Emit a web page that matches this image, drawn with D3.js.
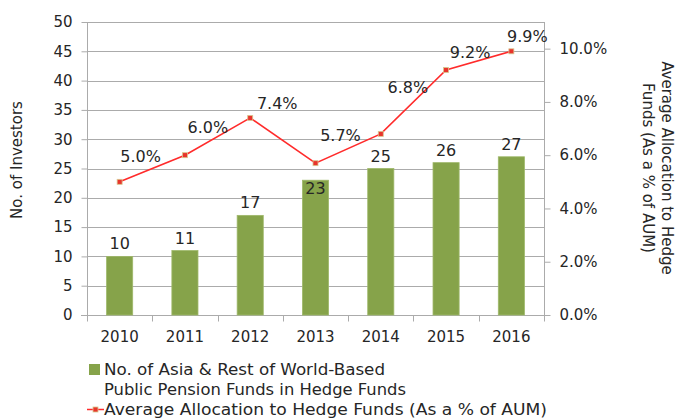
<!DOCTYPE html>
<html>
<head>
<meta charset="utf-8">
<script src="https://cdn.jsdelivr.net/npm/d3@7"></script>
<style>
  html, body { margin: 0; padding: 0; background: #fff; }
  svg text { font-family: "DejaVu Sans", "Liberation Sans", sans-serif; fill: #262626; }
</style>
</head>
<body>
<div id="chart"></div>
<script>
(function () {
    'use strict';

    // chart data
    var years = ['2010', '2011', '2012', '2013', '2014', '2015', '2016'];
    var investors = [10, 11, 17, 23, 25, 26, 27];
    var allocation = [5.0, 6.0, 7.4, 5.7, 6.8, 9.2, 9.9];
    var leftTicks = [0, 5, 10, 15, 20, 25, 30, 35, 40, 45, 50];
    var rightTicks = [0, 2, 4, 6, 8, 10];

    var barName = ['No. of Asia & Rest of World-Based', 'Public Pension Funds in Hedge Funds'];
    var lineName = 'Average Allocation to Hedge Funds (As a % of AUM)';

    // where excel dropped the % labels (dx, dy from the point)
    var lineLabelNudge = [[21, -26], [23, -28], [27, -15], [25, -28], [27, -47], [24, -18], [16, -15]];

    var width = 677, height = 418;
    var left = 87, right = 544, top = 22, bottom = 315;

    var svg = d3.select('#chart').append('svg')
        .attr('width', width)
        .attr('height', height);

    var x = d3.scaleBand().domain(years).range([left, right]).paddingInner(0.6).paddingOuter(0.3);
    var xCat = d3.scaleBand().domain(years).range([left, right]);
    var yL = d3.scaleLinear().domain([0, 50]).range([bottom, top]);
    var yR = d3.scaleLinear().domain([0, 11]).range([bottom, top]);

    var grid = '#ababab';

    // gridlines
    svg.append('g').selectAll('line')
        .data(leftTicks).enter()
        .append('line')
        .attr('x1', left).attr('x2', right)
        .attr('y1', function (d) { return Math.round(yL(d)) + 0.5; })
        .attr('y2', function (d) { return Math.round(yL(d)) + 0.5; })
        .attr('stroke', grid).attr('stroke-width', 1);

    // left axis
    var axL = svg.append('g')
        .attr('transform', 'translate(' + (left + 0.5) + ',0)')
        .call(d3.axisLeft(yL).tickValues(leftTicks).tickSize(6).tickPadding(9));
    axL.selectAll('text').style('font-size', '15px');

    // right axis
    var axR = svg.append('g')
        .attr('transform', 'translate(' + (right + 0.5) + ',0)')
        .call(d3.axisRight(yR).tickValues(rightTicks).tickSize(6).tickPadding(9)
            .tickFormat(function (d) { return d.toFixed(1) + '%'; }));
    axR.selectAll('text').style('font-size', '15px');

    // bottom axis, ticks between categories
    var axB = svg.append('g')
        .attr('transform', 'translate(0,' + (bottom + 0.5) + ')')
        .call(d3.axisBottom(xCat).tickSize(0).tickPadding(16));
    axB.selectAll('text').style('font-size', '15px');
    axB.selectAll('.sep')
        .data(years.concat(['end'])).enter()
        .append('line')
        .attr('class', 'sep')
        .attr('x1', function (d, i) { return Math.round(left + i * xCat.bandwidth()) + 0.5; })
        .attr('x2', function (d, i) { return Math.round(left + i * xCat.bandwidth()) + 0.5; })
        .attr('y1', 0).attr('y2', 6);

    svg.selectAll('.domain, .tick line, .sep').attr('stroke', grid);
    axL.select('.domain').remove();
    axR.select('.domain').remove();
    axB.select('.domain').remove();
    svg.append('line').attr('x1', left + 0.5).attr('x2', left + 0.5).attr('y1', top).attr('y2', bottom + 6).attr('stroke', grid);
    svg.append('line').attr('x1', right + 0.5).attr('x2', right + 0.5).attr('y1', top).attr('y2', bottom + 6).attr('stroke', grid);
    svg.append('line').attr('x1', left - 6).attr('x2', right + 6).attr('y1', bottom + 0.5).attr('y2', bottom + 0.5).attr('stroke', grid);

    // bars
    svg.append('g').selectAll('rect')
        .data(investors).enter()
        .append('rect')
        .attr('x', function (d, i) { return x(years[i]); })
        .attr('y', function (d) { return yL(d); })
        .attr('width', x.bandwidth())
        .attr('height', function (d) { return bottom - yL(d); })
        .attr('fill', '#86a34a')
        .attr('stroke', '#9fb86a')
        .attr('stroke-width', 0.8);

    svg.append('g').selectAll('text')
        .data(investors).enter()
        .append('text')
        .attr('x', function (d, i) { return x(years[i]) + x.bandwidth() / 2; })
        .attr('y', function (d, i) { return years[i] === '2013' ? yL(d) + 14 : yL(d) - 7; })
        .attr('text-anchor', 'middle')
        .style('font-size', '16px')
        .text(function (d) { return d; });

    // allocation line
    var cx = function (i) { return xCat(years[i]) + xCat.bandwidth() / 2; };
    var line = d3.line()
        .x(function (d, i) { return cx(i); })
        .y(function (d) { return yR(d); });

    svg.append('path')
        .datum(allocation)
        .attr('d', line)
        .attr('fill', 'none')
        .attr('stroke', '#ff2b2b')
        .attr('stroke-width', 1.6);

    svg.append('g').selectAll('rect')
        .data(allocation).enter()
        .append('rect')
        .attr('x', function (d, i) { return cx(i) - 2.5; })
        .attr('y', function (d) { return yR(d) - 2.5; })
        .attr('width', 5).attr('height', 5)
        .attr('fill', '#e8342c')
        .attr('stroke', '#d8c890')
        .attr('stroke-width', 0.8);

    svg.append('g').selectAll('text')
        .data(allocation).enter()
        .append('text')
        .attr('x', function (d, i) { return cx(i) + lineLabelNudge[i][0]; })
        .attr('y', function (d, i) { return yR(d) + lineLabelNudge[i][1] + 6; })
        .attr('text-anchor', 'middle')
        .style('font-size', '16px')
        .text(function (d) { return d.toFixed(1) + '%'; });

    // axis titles
    svg.append('text')
        .attr('transform', 'translate(22,160) rotate(-90)')
        .attr('text-anchor', 'middle')
        .style('font-size', '15px')
        .text('No. of Investors');

    var rt = svg.append('text')
        .attr('transform', 'translate(656,168) rotate(90)')
        .attr('text-anchor', 'middle')
        .style('font-size', '15px');
    rt.append('tspan').attr('x', 0).attr('y', -6).text('Average Allocation to Hedge');
    rt.append('tspan').attr('x', 0).attr('y', 13).text('Funds (As a % of AUM)');

    // legend
    var lg = svg.append('g');
    lg.append('rect').attr('x', 89).attr('y', 364).attr('width', 11).attr('height', 11).attr('fill', '#86a34a');
    lg.append('text').attr('x', 104).attr('y', 375).style('font-size', '16px')
        .attr('textLength', 281).attr('lengthAdjust', 'spacingAndGlyphs').text(barName[0]);
    lg.append('text').attr('x', 104).attr('y', 395).style('font-size', '16px')
        .attr('textLength', 302).attr('lengthAdjust', 'spacingAndGlyphs').text(barName[1]);
    lg.append('line').attr('x1', 87).attr('x2', 104).attr('y1', 409.5).attr('y2', 409.5)
        .attr('stroke', '#ff2b2b').attr('stroke-width', 1.5);
    lg.append('rect').attr('x', 93).attr('y', 407).attr('width', 5).attr('height', 5)
        .attr('fill', '#e8342c').attr('stroke', '#d8c890').attr('stroke-width', 0.8);
    lg.append('text').attr('x', 104).attr('y', 415).style('font-size', '16px')
        .attr('textLength', 443).attr('lengthAdjust', 'spacingAndGlyphs').text(lineName);
})();
</script>
</body>
</html>
